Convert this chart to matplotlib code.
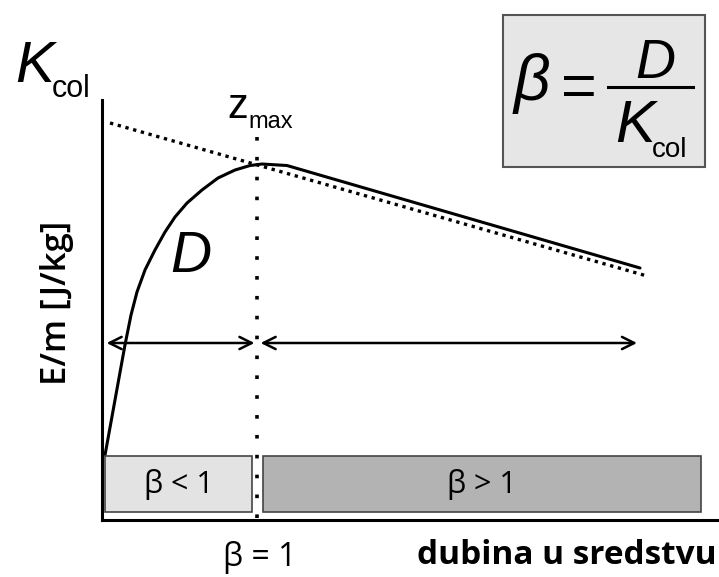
import matplotlib.pyplot as plt
from matplotlib.patches import Rectangle

# curve data (depth units, energy units)
d_depth = [0.049, 0.211, 0.373, 0.471, 0.568, 0.698, 0.860, 1.023, 1.185, 1.380,
           1.623, 1.883, 2.159, 2.403, 2.597, 3.003, 8.734]
d_energy = [1.083, 2.000, 2.917, 3.417, 3.800, 4.167, 4.500, 4.800, 5.050, 5.283,
            5.500, 5.700, 5.833, 5.908, 5.933, 5.908, 4.200]
k_depth = [0.13, 8.847]
k_energy = [6.617, 4.067]
z_max = 2.52
arrow_level = 2.95
region_labels = ['β < 1', 'β > 1']
region_spans = [(0.05, 2.435), (2.61, 9.72)]
region_colors = ['#e3e3e3', '#b3b3b3']

W, H = 719, 577
fig = plt.figure(figsize=(W / 100, H / 100), dpi=100)

# overlay in pixel coords for free text
ov = fig.add_axes([0, 0, 1, 1])
ov.set_xlim(0, W)
ov.set_ylim(H, 0)
ov.axis('off')

ax = fig.add_axes([102 / W, (H - 520) / H, (718 - 102) / W, (520 - 100) / H])
ax.set_xlim(0, 10)
ax.set_ylim(0, 7)
for s in ['top', 'right']:
    ax.spines[s].set_visible(False)
for s in ['left', 'bottom']:
    ax.spines[s].set_linewidth(2.2)
ax.set_xticks([])
ax.set_yticks([])
ax.patch.set_alpha(0)

ax.plot(k_depth, k_energy, color='black', lw=2.4, ls=(0, (1, 1.4)))
ax.plot(d_depth, d_energy, color='black', lw=2.2, solid_capstyle='round', solid_joinstyle='round')
ax.plot([z_max, z_max], [0.03, 6.42], color='black', lw=2.6, ls=(0, (1, 4.5)))

arr = dict(arrowstyle='<->', color='black', lw=1.8, mutation_scale=22)
ax.annotate('', xy=(0.03, arrow_level), xytext=(z_max, arrow_level), arrowprops=arr)
ax.annotate('', xy=(8.73, arrow_level), xytext=(z_max + 0.01, arrow_level), arrowprops=arr)

for lab, (x0, x1), c in zip(region_labels, region_spans, region_colors):
    ax.add_patch(Rectangle((x0, 0.13), x1 - x0, 0.94, facecolor=c, edgecolor='#444444', lw=1.2, zorder=3))
    ax.text((x0 + x1) / 2, 0.6, lab, ha='center', va='center', fontsize=22,
            family='Open Sans', zorder=4)

# labels
ov.text(15, 82, 'K', fontsize=42, style='italic', family='Liberation Sans', va='baseline')
ov.text(52, 97, 'col', fontsize=22, family='Liberation Sans', va='baseline')
ov.text(227, 118, 'z', fontsize=30, family='Liberation Sans', va='baseline')
ov.text(248, 128, 'max', fontsize=17, family='Liberation Sans', va='baseline')
ov.text(57, 303, 'E/m [J/kg]', fontsize=25, family='Open Sans', weight='semibold',
        rotation=90, ha='center', va='center')
ov.text(260, 557, 'β = 1', fontsize=23, family='Open Sans', ha='center', va='center')
ov.text(567, 555, 'dubina u sredstvu', fontsize=24, family='Open Sans', weight='bold',
        ha='center', va='center')
ov.text(191, 257, 'D', fontsize=41, style='italic', family='Liberation Sans', ha='center', va='center')

# formula box
ov.add_patch(Rectangle((503, 15), 202, 152, facecolor='#e6e6e6', edgecolor='#555555', lw=1.5))
ov.text(532, 83, 'β', fontsize=46, style='italic', family='Liberation Sans', ha='center', va='center')
ov.text(579, 90, '=', fontsize=44, family='Liberation Sans', ha='center', va='center')
ov.plot([608, 693], [87, 87], color='black', lw=2.2)
ov.text(655, 78, 'D', fontsize=40, style='italic', family='Liberation Sans', ha='center', va='baseline')
ov.text(635, 142, 'K', fontsize=43, style='italic', family='Liberation Sans', ha='center', va='baseline')
ov.text(652, 157, 'col', fontsize=20, family='Liberation Sans', va='baseline')

fig.savefig('out.png', dpi=100)
